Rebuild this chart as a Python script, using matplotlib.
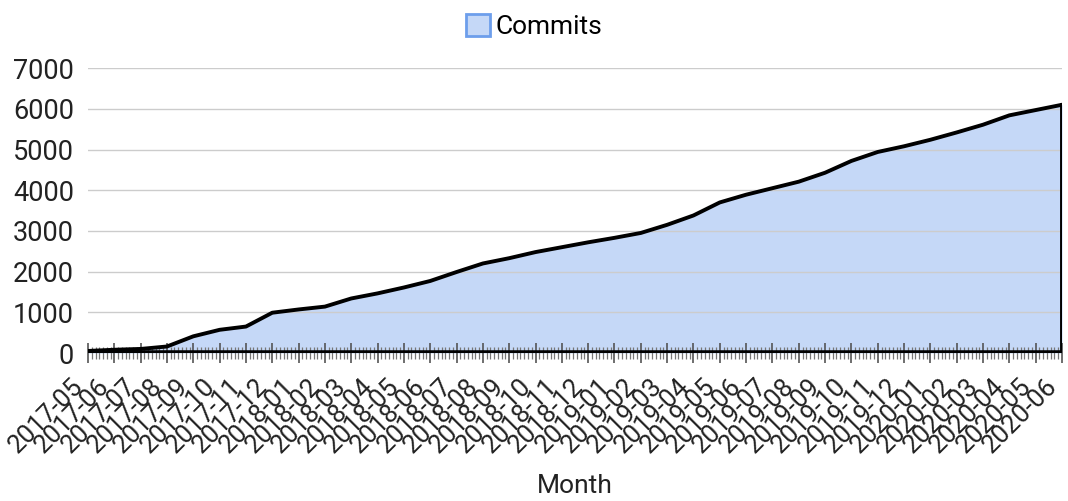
import matplotlib
matplotlib.use("Agg")
import numpy as np
import matplotlib.pyplot as plt
from matplotlib.ticker import AutoMinorLocator
from matplotlib.patches import Patch

# 月份与累计提交数
months = ["2017-05", "2017-06", "2017-07", "2017-08", "2017-09", "2017-10", "2017-11", "2017-12",
          "2018-01", "2018-02", "2018-03", "2018-04", "2018-05", "2018-06", "2018-07", "2018-08",
          "2018-09", "2018-10", "2018-11", "2018-12", "2019-01", "2019-02", "2019-03", "2019-04",
          "2019-05", "2019-06", "2019-07", "2019-08", "2019-09", "2019-10", "2019-11", "2019-12",
          "2020-01", "2020-02", "2020-03", "2020-04", "2020-05", "2020-06"]
commits = [50, 80, 100, 160, 410, 570, 650, 990,
           1070, 1140, 1340, 1465, 1610, 1770, 1990, 2200,
           2330, 2480, 2600, 2720, 2830, 2950, 3150, 3380,
           3700, 3890, 4050, 4210, 4430, 4720, 4940, 5080,
           5240, 5420, 5610, 5840, 5970, 6100]
yticks = [0, 1000, 2000, 3000, 4000, 5000, 6000, 7000]

plt.rcParams['font.family'] = ['Roboto', 'DejaVu Sans']

fig = plt.figure(figsize=(10.68, 5.01), dpi=100)
ax = fig.add_axes([0.0824, 0.2954, 0.912, 0.5686])

x = np.arange(len(months))
fill_color = '#c5d8f7'
ax.fill_between(x, 0, commits, color=fill_color, zorder=1, linewidth=0)
ax.plot(x, commits, color='black', linewidth=2.8, zorder=3)
# 右侧竖边
ax.plot([x[-1], x[-1]], [0, commits[-1]], color='black', linewidth=2.8, zorder=3)
ax.axhline(0, color='black', linewidth=4, zorder=4)

ax.set_xlim(0, len(months) - 1)
ax.set_ylim(0, 7000)
ax.set_yticks(yticks)
ax.yaxis.grid(True, color='#cccccc', linewidth=1)
ax.set_axisbelow(False)

for s in ax.spines.values():
    s.set_visible(False)

ax.set_xticks(x)
ax.set_xticklabels(months, rotation=45, ha='right', va='bottom', rotation_mode='anchor',
                   fontsize=18.5, color='#222222')
ax.xaxis.set_minor_locator(AutoMinorLocator(7))
ax.tick_params(axis='x', which='major', direction='inout', length=15, width=1.2, color='#555555', pad=20)
ax.tick_params(axis='x', which='minor', direction='inout', length=9, width=0.9, color='#777777')
ax.tick_params(axis='y', length=0, labelsize=19.5, labelcolor='#222222', pad=10)
ax.set_xlabel('Month', fontsize=19, color='#222222', labelpad=12)

handle = Patch(facecolor=fill_color, edgecolor='#6d9eeb', linewidth=2)
fig.legend([handle], ['Commits'], loc='upper center', bbox_to_anchor=(0.5, 1.02),
           frameon=False, fontsize=19, handlelength=0.9, handleheight=0.9, handletextpad=0.2)

fig.savefig('out.png', dpi=100)
plt.close(fig)
